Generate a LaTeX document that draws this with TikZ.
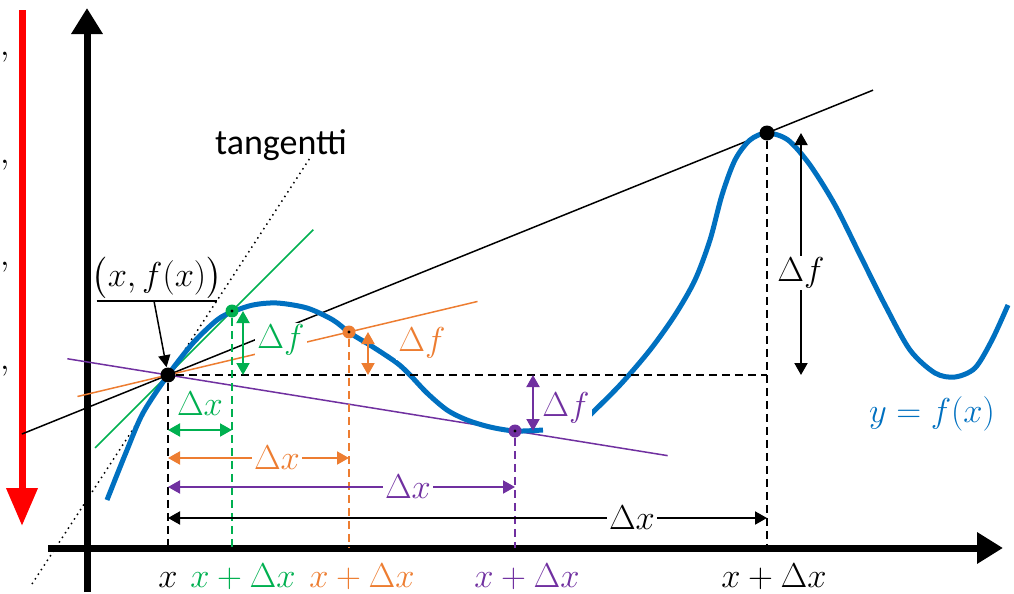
\documentclass[tikz,border=0pt]{standalone}
\usepackage{amsmath}
\usepackage{fontspec}
\setmainfont{Carlito}
\usetikzlibrary{calc,arrows.meta}
\definecolor{fblue}{RGB}{0,112,192}
\definecolor{dgreen}{RGB}{0,176,80}
\definecolor{dorange}{RGB}{237,125,49}
\definecolor{dpurple}{RGB}{112,48,160}
\begin{document}
\begin{tikzpicture}[x=0.5pt,y=-0.5pt,font=\fontsize{17}{20}\selectfont]
\tikzstyle{axis}=[line width=3.5pt,-{Triangle[length=13pt,width=15pt]}]
\tikzstyle{both}=[line width=1pt,{Triangle[length=6pt,width=6.5pt]}-{Triangle[length=6pt,width=6.5pt]}]
\tikzstyle{guide}=[line width=1pt,dash pattern=on 4pt off 2.5pt]
\tikzstyle{secant}=[line width=0.75pt]
\tikzstyle{dot}=[circle,fill,inner sep=0pt,minimum size=7.5pt]
\tikzstyle{cdot}=[circle,inner sep=0pt,minimum size=6.5pt,path picture={\fill[black] (path picture bounding box.center) circle (0.8pt);}]
\tikzstyle{lbl}=[fill=white,inner sep=1pt]
\tikzstyle{curve}=[fblue,line width=2.5pt]

\useasboundingbox (0,0) rectangle (1014,594);

\coordinate (o1) at (48,548);
\coordinate (o2) at (1003,548);
\coordinate (y0) at (87,592);
\coordinate (y1) at (87,8);
\coordinate (r0) at (22,10);
\coordinate (r1) at (22,526);
\coordinate (p) at (168,375);
\coordinate (g) at (232,311);
\coordinate (o) at (349,332);
\coordinate (u) at (515,431);
\coordinate (q) at (767,133);
\coordinate (t0) at (32,584);
\coordinate (t1) at (310,158);

% cut-off text at the left edge
\node[anchor=base east,inner sep=0pt] (c1) at (10,55) {$\Delta x,$};
\node[anchor=base east,inner sep=0pt] (c2) at (10,163) {$\color{dpurple}\Delta x\color{black},$};
\node[anchor=base east,inner sep=0pt] (c3) at (10,265) {$\color{dorange}\Delta x\color{black},$};
\node[anchor=base east,inner sep=0pt] (c4) at (10,369) {$\color{dgreen}\Delta x\color{black},$};

\draw[axis] (o1) -- (o2);
\draw[axis] (y0) -- (y1);
\draw[red,line width=3.5pt,-{Triangle[length=19pt,width=15pt]}] (r0) -- (r1);

\draw[dotted,line width=0.75pt] (t0) -- (t1);
\draw[secant] ($(p)!-0.244!(q)$) -- ($(p)!1.177!(q)$);
\draw[secant,dgreen] ($(p)!-1.14!(g)$) -- ($(p)!2.27!(g)$);
\draw[secant,dorange] ($(p)!-0.5!(o)$) -- ($(p)!1.71!(o)$);
\draw[secant,dpurple] ($(p)!-0.29!(u)$) -- ($(p)!1.44!(u)$);

\draw[curve] plot[smooth] coordinates {(107,500) (127,450) (143,413) (168,375) (193,343) (217,320) (232,312) (253,305) (277,303) (307,308) (333,320) (350,333) (373,347) (397,363) (410,375) (427,393) (447,410) (467,420) (490,427) (515,431) (543,430)};
\draw[curve] plot[smooth] coordinates {(590,415) (620,385) (650,350) (675,315) (695,280) (710,240) (722,195) (735,160) (750,140) (767,133) (788,140) (810,165) (835,205) (860,255) (885,305) (910,350) (935,373) (955,377) (975,368) (992,340) (1008,305)};

\node[dot] (P) at (p) {};
\node[dot] (Q) at (q) {};
\node[cdot,fill=dgreen] (G) at (g) {};
\node[cdot,fill=dorange] (O) at (o) {};
\node[cdot,fill=dpurple] (U) at (u) {};

\draw[guide] (P) -- (P |- o1);
\draw[guide] (P) -- (Q |- P);
\draw[guide] (Q) -- (Q |- o1);
\draw[guide,dgreen] (G) -- (G |- o1);
\draw[guide,dorange] (O) -- (O |- o1);
\draw[guide,dpurple] (U) -- (U |- o1);

\draw[both,dgreen] (243,0 |- G) -- (243,0 |- P);
\draw[both,dorange] (368,0 |- O) -- (368,0 |- P);
\draw[both,dpurple] (533,0 |- P) -- (533,0 |- U);
\draw[both] (801,0 |- Q) -- (801,0 |- P);

\draw[both,dgreen] (P |- 0,430) -- (G |- 0,430);
\draw[both,dorange] (P |- 0,458) -- (O |- 0,458);
\draw[both,dpurple] (P |- 0,487) -- (U |- 0,487);
\draw[both] (P |- 0,518) -- (Q |- 0,518);

\node[lbl,text=dgreen] (dfg) at (281,340) {$\Delta f$};
\node[lbl,text=dorange] (dfo) at (422,343) {$\Delta f$};
\node[lbl,text=dpurple] (dfu) at (566,408) {$\Delta f$};
\node[lbl] (dfq) at (801,273) {$\Delta f$};
\node[text=dgreen] (dxg) at (200,404) {$\Delta x$};
\node[lbl,text=dorange] (dxo) at (277,458) {$\Delta x$};
\node[lbl,text=dpurple] (dxu) at (408,487) {$\Delta x$};
\node[lbl] (dxq) at (632,518) {$\Delta x$};

\node[anchor=base] (bx) at (168,587) {$x$};
\node[anchor=base,text=dgreen] (bg) at (243,587) {$x+\Delta x$};
\node[anchor=base,text=dorange] (bo) at (362,587) {$x+\Delta x$};
\node[anchor=base,text=dpurple] (bu) at (527,587) {$x+\Delta x$};
\node[anchor=base] (bq) at (774,587) {$x+\Delta x$};

\node[text=fblue] (fx) at (932,414) {$y=f(x)$};
\node[anchor=base,font=\fontsize{18}{22}\selectfont] (tan) at (281,155) {tangentti};
\node[anchor=south,inner sep=1pt,inner xsep=0pt] (pt) at (157,301) {$\big(x,f(x)\big)$};
\draw[line width=0.75pt] ([xshift=2.5pt]pt.south west) -- ([xshift=-2.5pt]pt.south east);
\draw[line width=0.75pt,-{Triangle[length=6pt,width=6pt]}] ([xshift=-1.5pt]pt.south) -- (P);
\end{tikzpicture}
\end{document}
